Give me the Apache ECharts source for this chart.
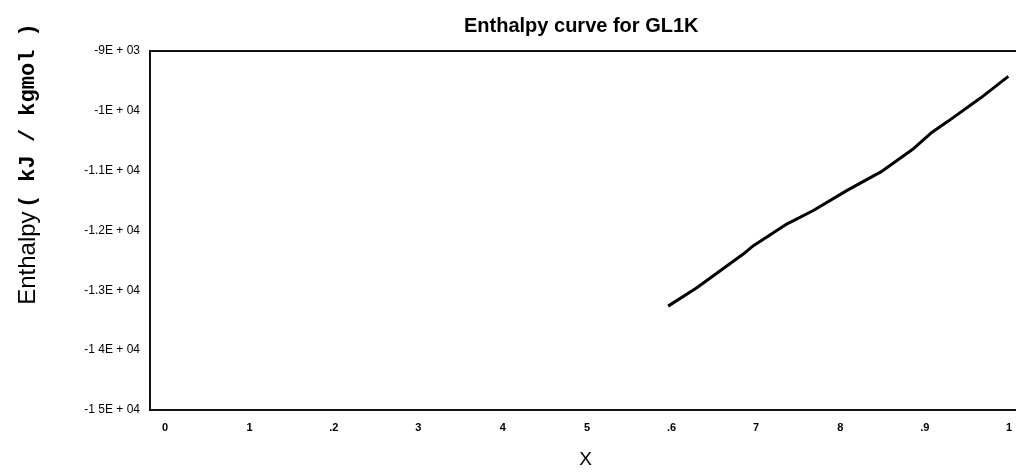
<!DOCTYPE html>
<html>
<head>
<meta charset="utf-8">
<script src="https://cdn.jsdelivr.net/npm/echarts@6/dist/echarts.min.js"></script>
<style>html,body{margin:0;padding:0;background:#fff;}#c{width:1016px;height:475px;}</style>
</head>
<body>
<div id="c"></div>
<script>
// Data
var xValues = [0.596, 0.630, 0.685, 0.697, 0.737, 0.768, 0.808, 0.848, 0.887, 0.907, 0.927, 0.966, 0.999];
var enthalpy = [-13264, -12956, -12394, -12254, -11889, -11666, -11329, -11021, -10628, -10376, -10180, -9787, -9423];
var xTickValues = [0, 0.1, 0.2, 0.3, 0.4, 0.5, 0.6, 0.7, 0.8, 0.9, 1.0];
var xTickLabels = ["0", "1", ".2", "3", "4", "5", ".6", "7", "8", ".9", "1"];
var yTickLabels = ["-1 5E + 04", "-1 4E + 04", "-1.3E + 04", "-1.2E + 04", "-1.1E + 04", "-1E + 04", "-9E + 03"];

var points = xValues.map(function (x, i) { return [x, enthalpy[i]]; });

var chart = echarts.init(document.getElementById('c'));
chart.setOption({
  backgroundColor: '#fff',
  animation: false,
  title: {
    text: 'Enthalpy curve for GL1K',
    left: 459,
    top: 11,
    textStyle: { fontFamily: 'Liberation Sans', fontWeight: 'bold', fontSize: 20, color: '#000' }
  },
  grid: {
    left: 150, top: 51, bottom: 65, right: -5,
    outerBoundsMode: 'none',
    containLabel: false,
    show: true, borderColor: '#111', borderWidth: 2, backgroundColor: 'transparent'
  },
  xAxis: {
    type: 'value',
    min: -0.0178,
    max: 1.014,
    name: 'X',
    nameLocation: 'middle',
    nameGap: 40,
    nameTextStyle: { fontFamily: 'Liberation Sans', fontSize: 19, color: '#000' },
    axisLine: { show: false },
    axisTick: { show: false },
    splitLine: { show: false },
    axisLabel: {
      customValues: xTickValues,
      margin: 12,
      fontFamily: 'Liberation Sans',
      fontWeight: 'bold',
      fontSize: 11,
      color: '#000',
      formatter: function (v) { return xTickLabels[Math.round(v * 10)]; }
    }
  },
  yAxis: {
    type: 'value',
    min: -15000,
    max: -9000,
    interval: 1000,
    axisLine: { show: false },
    axisTick: { show: false },
    splitLine: { show: false },
    axisLabel: {
      margin: 10,
      fontFamily: 'Liberation Sans',
      fontSize: 12,
      color: '#000',
      formatter: function (v) { return yTickLabels[Math.round((v + 15000) / 1000)]; }
    }
  },
  graphic: [{
    type: 'text',
    x: 28,
    y: 164,
    rotation: Math.PI / 2,
    style: {
      text: '{a|Enthalpy} {b|( kJ / kgmol )}',
      align: 'center',
      verticalAlign: 'middle',
      fill: '#000',
      rich: {
        a: { fontFamily: 'Liberation Sans', fontSize: 24, fill: '#000' },
        b: { fontFamily: 'Liberation Mono', fontWeight: 'bold', fontSize: 22, fill: '#000' }
      }
    }
  }],
  series: [{
    type: 'line',
    data: points,
    showSymbol: false,
    lineStyle: { color: '#000', width: 3 },
    itemStyle: { color: '#000' }
  }]
});
</script>
</body>
</html>
